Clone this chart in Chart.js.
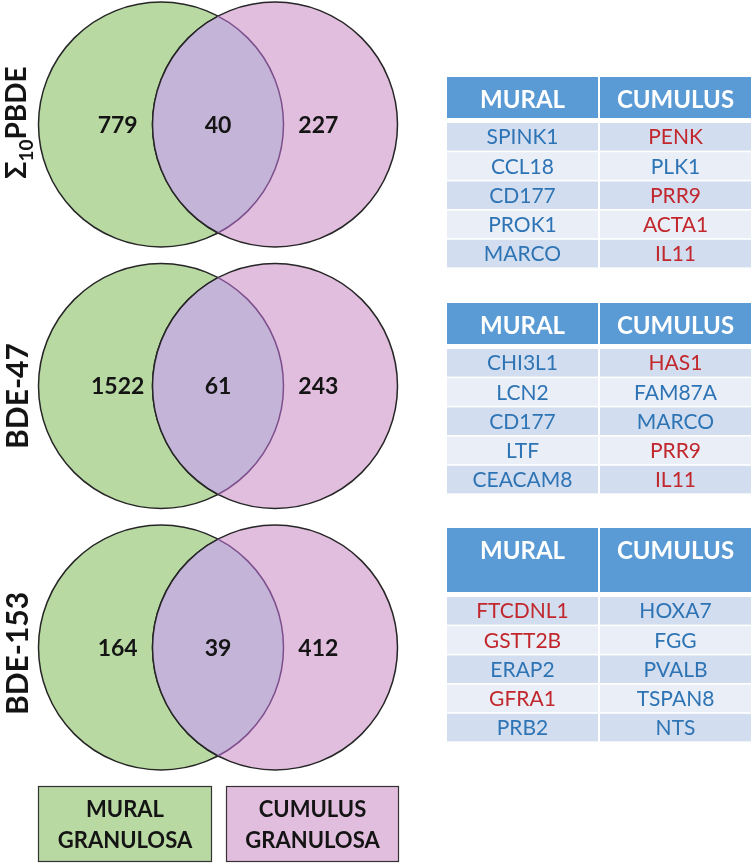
<!DOCTYPE html>
<html>
<head>
<meta charset="utf-8">
<title>Venn</title>
<script src="https://cdn.jsdelivr.net/npm/chart.js@4.4.1/dist/chart.umd.min.js"></script>
<style>
  html, body { margin: 0; padding: 0; background: #fff; }
  canvas { display: block; }
</style>
</head>
<body>
<canvas id="venn" width="752" height="864"></canvas>
<script>
// ---- data ----
const panels = ['Σ10PBDE', 'BDE-47', 'BDE-153'];
const groups = ['MURAL', 'CUMULUS'];
const groupNames = [['MURAL', 'GRANULOSA'], ['CUMULUS', 'GRANULOSA']];
const muralOnly = [779, 1522, 164];
const shared = [40, 61, 39];
const cumulusOnly = [227, 243, 412];

const muralGenes = [
  ['SPINK1', 'CCL18', 'CD177', 'PROK1', 'MARCO'],
  ['CHI3L1', 'LCN2', 'CD177', 'LTF', 'CEACAM8'],
  ['FTCDNL1', 'GSTT2B', 'ERAP2', 'GFRA1', 'PRB2']
];
const cumulusGenes = [
  ['PENK', 'PLK1', 'PRR9', 'ACTA1', 'IL11'],
  ['HAS1', 'FAM87A', 'MARCO', 'PRR9', 'IL11'],
  ['HOXA7', 'FGG', 'PVALB', 'TSPAN8', 'NTS']
];
// 1 = gene written in red, 0 = blue
const muralRed = [
  [0, 0, 0, 0, 0],
  [0, 0, 0, 0, 0],
  [1, 1, 0, 1, 0]
];
const cumulusRed = [
  [1, 0, 1, 1, 1],
  [1, 0, 0, 1, 1],
  [0, 0, 0, 0, 0]
];

// ---- style / layout ----
const GREEN = '#b9d9a3';
const PINK = '#e1bede';
const LENS = '#c4b4d8';
const EDGE = '#262626';
const LENS_EDGE = '#7d4f8c';
const HEAD = '#5b9bd5';
const ROW_DARK = '#d2deef';
const ROW_LIGHT = '#e9eef7';
const TXT_BLUE = '#2e74b5';
const TXT_RED = '#c1272d';
const R = 122.5;

const countX = [-0.38, 0.5, 1.38];     // x values for the three count labels
const labelShift = [-2, 10, 6];        // nudges of the rotated panel names
const tbl = { left: 447, right: 751, split: 598, gap: 2, rowH: 29.2, headGap: 5 };
const tableTops = [77, 303, 528];
const headHeights = [41, 41, 64];

function capText(ctx, text, x, cy, size) {
  // draw text centred on its cap height
  ctx.fillText(text, x, cy + size * 0.36);
}

const vennPlugin = {
  id: 'venn',
  afterDatasetsDraw(chart) {
    const ctx = chart.ctx;
    const xs = chart.scales.x, ys = chart.scales.y;
    const mural = chart.getDatasetMeta(0).data;
    const cumulus = chart.getDatasetMeta(1).data;

    panels.forEach((p, i) => {
      const a = mural[i], b = cumulus[i];
      const r = a.options.radius;

      // overlap
      ctx.save();
      ctx.beginPath(); ctx.arc(a.x, a.y, r, 0, Math.PI * 2); ctx.clip();
      ctx.beginPath(); ctx.arc(b.x, b.y, r, 0, Math.PI * 2);
      ctx.fillStyle = LENS; ctx.fill();
      ctx.lineWidth = 1.5; ctx.strokeStyle = EDGE; ctx.stroke();
      ctx.restore();
      ctx.save();
      ctx.beginPath(); ctx.arc(b.x, b.y, r, 0, Math.PI * 2); ctx.clip();
      ctx.beginPath(); ctx.arc(a.x, a.y, r, 0, Math.PI * 2);
      ctx.lineWidth = 1.5; ctx.strokeStyle = LENS_EDGE; ctx.stroke();
      ctx.restore();

      // counts
      const cy = ys.getPixelForValue(i);
      ctx.save();
      ctx.fillStyle = '#141414';
      ctx.font = 'bold 23px Lato';
      ctx.textAlign = 'center';
      [muralOnly[i], shared[i], cumulusOnly[i]].forEach((v, k) => {
        capText(ctx, String(v), xs.getPixelForValue(countX[k]), cy, 23);
      });
      ctx.restore();

      // panel name, rotated
      ctx.save();
      ctx.translate(6, cy + labelShift[i]);
      ctx.rotate(-Math.PI / 2);
      ctx.fillStyle = '#141414';
      ctx.textBaseline = 'alphabetic';
      if (p.startsWith('Σ10')) {
        const big = 'bold 28px Lato', small = 'bold 19px Lato';
        ctx.font = big; const w1 = ctx.measureText('Σ').width;
        const w3 = ctx.measureText('PBDE').width;
        ctx.font = small; const w2 = ctx.measureText('10').width;
        let x0 = -(w1 + w2 + w3) / 2;
        const base = 20;
        ctx.font = big; ctx.fillText('Σ', x0, base); x0 += w1;
        ctx.font = small; ctx.fillText('10', x0, base + 7); x0 += w2;
        ctx.font = big; ctx.fillText('PBDE', x0, base);
      } else {
        ctx.font = 'bold 30px Lato';
        ctx.textAlign = 'center';
        ctx.fillText(p, 0, 22);
      }
      ctx.restore();
    });

    // gene tables
    tableTops.forEach((top, t) => {
      const hh = headHeights[t];
      const colW = [tbl.split - tbl.left, tbl.right - tbl.split - tbl.gap];
      const colX = [tbl.left, tbl.split + tbl.gap];
      ctx.save();
      ctx.fillStyle = HEAD;
      colX.forEach((cx, c) => ctx.fillRect(cx, top, colW[c], hh));
      ctx.fillStyle = '#fff';
      ctx.font = 'bold 24px Lato';
      ctx.textAlign = 'center';
      groups.forEach((g, c) => capText(ctx, g, colX[c] + colW[c] / 2, top + 22, 24));

      const lists = [muralGenes[t], cumulusGenes[t]];
      const reds = [muralRed[t], cumulusRed[t]];
      lists[0].forEach((gene, r) => {
        const y0 = top + hh + tbl.headGap + r * tbl.rowH;
        colX.forEach((cx, c) => {
          ctx.fillStyle = r % 2 === 0 ? ROW_DARK : ROW_LIGHT;
          ctx.fillRect(cx, y0, colW[c], tbl.rowH - 1.6);
          ctx.fillStyle = reds[c][r] ? TXT_RED : TXT_BLUE;
          ctx.font = '21px Lato';
          capText(ctx, lists[c][r], cx + colW[c] / 2, y0 + (tbl.rowH - 1.6) / 2, 21);
        });
      });
      ctx.restore();
    });

    // group boxes under the diagrams
    const boxes = [[38, 786, 174, 76], [226, 786, 173, 76]];
    chart.data.datasets.forEach((ds, d) => {
      const [bx, by, bw, bh] = boxes[d];
      ctx.save();
      ctx.fillStyle = ds.backgroundColor;
      ctx.fillRect(bx, by, bw, bh);
      ctx.lineWidth = 1.2;
      ctx.strokeStyle = '#333';
      ctx.strokeRect(bx + 0.5, by + 0.5, bw - 1, bh - 1);
      ctx.fillStyle = '#141414';
      ctx.font = 'bold 22px Lato';
      ctx.textAlign = 'center';
      groupNames[d].forEach((line, k) => capText(ctx, line, bx + bw / 2, by + 23 + k * 31, 22));
      ctx.restore();
    });
  }
};

function draw() {
  Chart.defaults.font.family = 'Lato';
  new Chart(document.getElementById('venn'), {
    type: 'bubble',
    data: {
      datasets: [
        {
          label: groups[0],
          data: panels.map((p, i) => ({ x: 0, y: i, r: R })),
          backgroundColor: GREEN,
          borderColor: EDGE,
          borderWidth: 1.5,
          order: 2,
          clip: false
        },
        {
          label: groups[1],
          data: panels.map((p, i) => ({ x: 1, y: i, r: R })),
          backgroundColor: PINK,
          borderColor: EDGE,
          borderWidth: 1.5,
          order: 1,
          clip: false
        }
      ]
    },
    options: {
      responsive: false,
      animation: false,
      events: [],
      layout: { padding: 0, autoPadding: false },
      plugins: { legend: { display: false }, tooltip: { enabled: false } },
      scales: {
        x: { type: 'linear', display: false, min: -1.4123, max: 5.1842 },
        y: { type: 'linear', display: false, reverse: true, min: -0.4761, max: 2.8280 }
      }
    },
    plugins: [vennPlugin]
  });
}

Promise.all([
  document.fonts.load('bold 23px Lato'),
  document.fonts.load('20px Lato')
]).catch(() => {}).then(draw);
</script>
</body>
</html>
